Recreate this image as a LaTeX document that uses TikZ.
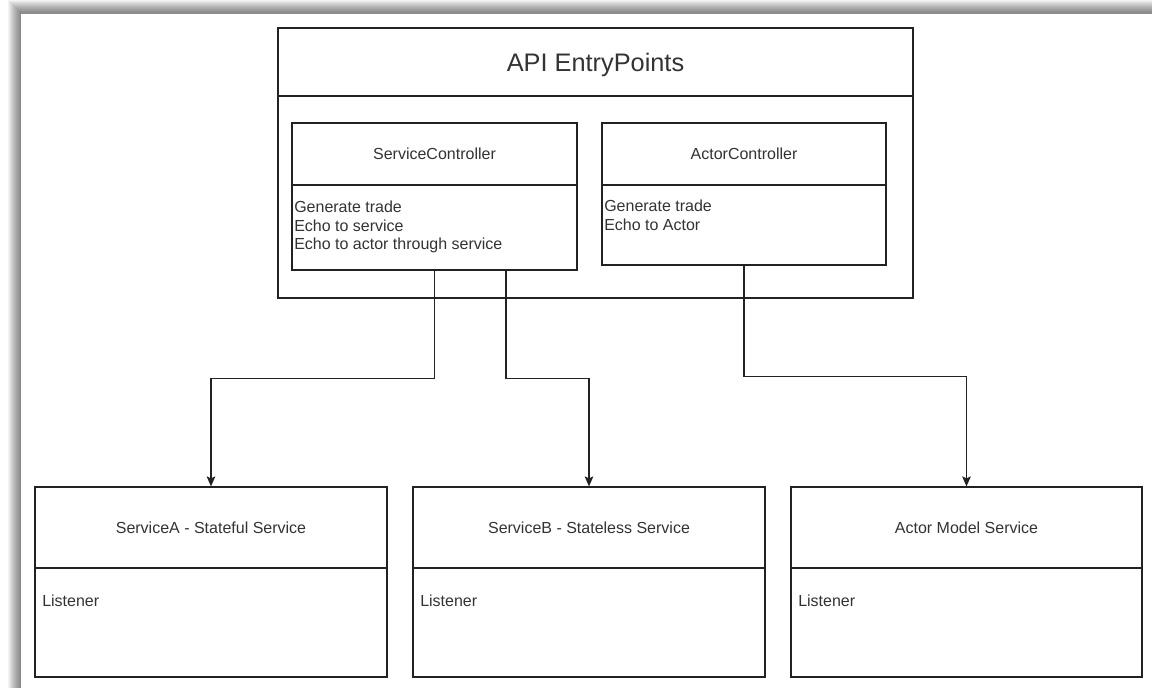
\documentclass[tikz,border=0pt]{standalone}
\usepackage{fontspec}
\setmainfont{Liberation Sans}
\usetikzlibrary{fit,arrows.meta}
\definecolor{txt}{HTML}{333333}
\definecolor{edge}{HTML}{222222}
\tikzset{
  box/.style={draw=edge, line width=0.9pt, inner sep=0pt, fill=none},
  headtext/.style={text=txt, font=\fontsize{12pt}{14pt}\selectfont},
  bigtext/.style={text=txt, font=\fontsize{19pt}{22pt}\selectfont, yshift=-2pt},
  bodytext/.style={text=txt, font=\fontsize{12pt}{14pt}\selectfont,
    align=left, inner sep=0pt, anchor=north west},
  conn/.style={draw=edge, line width=0.9pt,
    -{Stealth[length=7.5pt,width=6.5pt,inset=1.5pt]}},
}
\begin{document}
\begin{tikzpicture}[x=0.75pt,y=-0.75pt]
\useasboundingbox (0,0) rectangle (1152,688);
% page with a soft drop shadow along the top and left edges
\fill[white] (0,0) rectangle (1152,688);
\foreach \i in {0,...,12}
  \fill[black, opacity=0.045] (8+\i,\i) rectangle (1152,688);
\fill[white] (21,14) rectangle (1152,688);

% API entry points container
\node[box, fit={(278,28)(913,298)}] (api) {};
\node[box, fit={(278,28)(913,96)}, label={[bigtext]center:API EntryPoints}] (apihead) {};

% controllers
\node[box, fit={(292,123)(577,270)}] (sc) {};
\node[box, fit={(292,123)(577,185)}, label={[headtext]center:ServiceController}] (schead) {};
\node[bodytext] (scbody) at (294,201) {Generate trade\\[-0.2pt]Echo to service\\[-0.2pt]Echo to actor through service};

\node[box, fit={(602,123)(886,265)}] (ac) {};
\node[box, fit={(602,123)(886,185)}, label={[headtext]center:ActorController}] (achead) {};
\node[bodytext] (acbody) at (604,200) {Generate trade\\[-0.2pt]Echo to Actor};

% services
\node[box, fit={(35,487)(387,677)}] (sa) {};
\node[box, fit={(35,487)(387,568)}, label={[headtext]center:ServiceA - Stateful Service}] (sahead) {};
\node[bodytext] (sabody) at (42,595) {Listener};

\node[box, fit={(413,487)(765,677)}] (sb) {};
\node[box, fit={(413,487)(765,568)}, label={[headtext]center:ServiceB - Stateless Service}] (sbhead) {};
\node[bodytext] (sbbody) at (420,595) {Listener};

\node[box, fit={(791,487)(1142,677)}] (am) {};
\node[box, fit={(791,487)(1142,568)}, label={[headtext]center:Actor Model Service}] (amhead) {};
\node[bodytext] (ambody) at (798,595) {Listener};

% connectors
\draw[conn] (sc.south) -- ++(0,108) -| (sa.north);
\draw[conn] ([xshift=53.6pt]sc.south) -- ++(0,108) -| (sb.north);
\draw[conn] (ac.south) -- ++(0,111) -| (am.north);
\end{tikzpicture}
\end{document}
